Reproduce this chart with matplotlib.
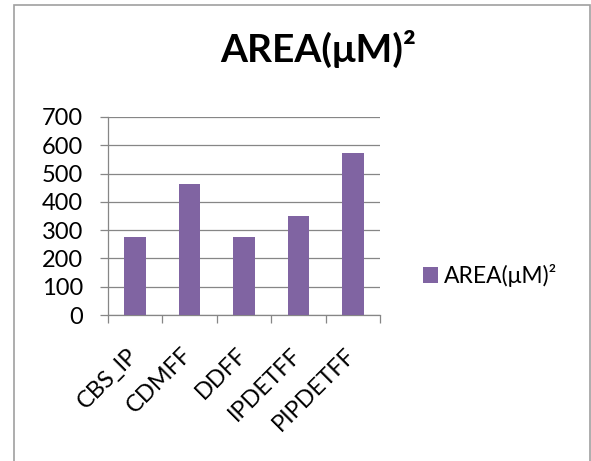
import matplotlib.pyplot as plt
from matplotlib.patches import Rectangle
from matplotlib.transforms import ScaledTranslation

# 数据
categories = ['CBS_IP', 'CDMFF', 'DDFF', 'IPDETFF', 'PIPDETFF']
area = [277, 462, 277, 351, 574]
series_name = 'AREA(μM)²'
y_ticks = [0, 100, 200, 300, 400, 500, 600, 700]

plt.rcParams['font.family'] = ['Lato', 'DejaVu Sans']

W, H = 591, 461
fig = plt.figure(figsize=(W / 100, H / 100), dpi=100)
fig.patch.set_facecolor('white')

# 外框
fig.patches.append(Rectangle((14 / W, -0.1), (590 - 14) / W, 1.1 - 5 / H,
                             transform=fig.transFigure, fill=False,
                             edgecolor='#a0a0a0', linewidth=1.2))

ax = fig.add_axes([108 / W, 1 - 315 / H, (380 - 108) / W, (315 - 117) / H])
x = range(len(categories))
ax.bar(x, area, width=0.4, color='#8064a2', label=series_name, zorder=3)

ax.set_xlim(-0.5, len(categories) - 0.5)
ax.set_ylim(0, 700)
ax.set_yticks(y_ticks)
ax.yaxis.grid(True, color='#868686', linewidth=0.9, zorder=0)

ax.set_xticks(list(x))
ax.set_xticklabels(categories, rotation=45, ha='right', rotation_mode='anchor')
ax.set_xticks([i - 0.5 for i in range(len(categories) + 1)], minor=True)
ax.tick_params(axis='x', which='major', length=0, pad=21, labelsize=17)
ax.tick_params(axis='x', which='minor', length=6, color='#868686', width=0.9)
ax.tick_params(axis='y', length=6, color='#868686', width=0.9, pad=12, labelsize=17)

# 斜标签稍微左移
shift = ScaledTranslation(-0.08, 0, fig.dpi_scale_trans)
for lbl in ax.get_xticklabels():
    lbl.set_transform(lbl.get_transform() + shift)

for s in ['top', 'right']:
    ax.spines[s].set_visible(False)
for s in ['left', 'bottom']:
    ax.spines[s].set_color('#868686')
    ax.spines[s].set_linewidth(0.9)

fig.text(318 / W, 1 - 49 / H, series_name, ha='center', va='center',
         fontsize=28, fontweight='bold')

fig.legend(loc='center left', bbox_to_anchor=(423 / W, 1 - 275.5 / H),
           frameon=False, fontsize=16.5, handlelength=0.65, handleheight=0.65,
           handletextpad=0.25, borderpad=0, borderaxespad=0)

fig.savefig('out.png', dpi=100)
